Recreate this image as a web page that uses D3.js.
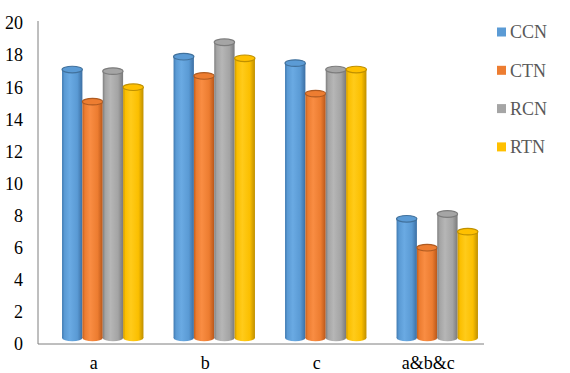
<!DOCTYPE html>
<html>
<head>
<meta charset="utf-8">
<script src="https://cdn.jsdelivr.net/npm/d3@7"></script>
<style>
  body { margin: 0; background: #fff; }
  text { font-family: "Liberation Serif", "Times New Roman", serif; }
</style>
</head>
<body>
<svg id="chart" width="570" height="373"></svg>
<script>
var categories = ["a", "b", "c", "a&b&c"];
var seriesNames = ["CCN", "CTN", "RCN", "RTN"];
var ccn = [17.1, 17.9, 17.5, 7.8];
var ctn = [15.1, 16.7, 15.6, 6.0];
var rcn = [17.0, 18.8, 17.1, 8.1];
var rtn = [16.0, 17.8, 17.1, 7.0];
var yTicks = [0, 2, 4, 6, 8, 10, 12, 14, 16, 18, 20];

var seriesValues = [ccn, ctn, rcn, rtn];
var colors = ["#5b9bd5", "#ed7d31", "#a5a5a5", "#ffc000"];
// shading for the cylinder body: edge, highlight, base, shadow
var shades = [
  ["#3f79b0", "#6aaae3", "#5a9ad4", "#3c6fa3"],
  ["#c45f1c", "#f98d43", "#ec7c30", "#b8571a"],
  ["#7e7e7e", "#b6b6b6", "#a4a4a4", "#7a7a7a"],
  ["#cc9800", "#ffcb1a", "#fbbf00", "#bf8f00"]
];
var topColors = ["#41719c", "#ae5a21", "#7c7c7c", "#bf9000"];

var svg = d3.select("#chart");
var plotLeft = 38, plotRight = 484, plotTop = 23, plotBottom = 344;
var depthX = 9, depthY = -6, ry = 3.3;

var x0 = d3.scaleBand().domain(categories).range([plotLeft, plotRight])
    .paddingInner(0.27).paddingOuter(0.135);
var x1 = d3.scaleBand().domain(seriesNames).range([0, x0.bandwidth()]);
var y = d3.scaleLinear().domain([0, 20]).range([plotBottom, plotTop]);

var defs = svg.append("defs");
shades.forEach(function(s, i) {
  var g = defs.append("linearGradient").attr("id", "grad" + i)
      .attr("x1", "0").attr("x2", "1").attr("y1", "0").attr("y2", "0");
  g.append("stop").attr("offset", "0").attr("stop-color", s[0]);
  g.append("stop").attr("offset", "0.12").attr("stop-color", s[2]);
  g.append("stop").attr("offset", "0.38").attr("stop-color", s[1]);
  g.append("stop").attr("offset", "0.75").attr("stop-color", s[2]);
  g.append("stop").attr("offset", "1").attr("stop-color", s[3]);
});

// y tick labels
svg.append("g").selectAll("text")
  .data(yTicks)
  .enter().append("text")
    .attr("x", 23)
    .attr("y", function(d) { return y(d); })
    .attr("dy", "0.35em")
    .attr("text-anchor", "end")
    .attr("font-size", 18)
    .attr("fill", "#000")
    .text(function(d) { return d; });

// axis lines
svg.append("line").attr("x1", plotLeft).attr("x2", plotLeft).attr("y1", 21).attr("y2", plotBottom)
    .attr("stroke", "#7f7f7f").attr("stroke-width", 1);
svg.append("line").attr("x1", plotLeft).attr("x2", plotRight).attr("y1", plotBottom).attr("y2", plotBottom)
    .attr("stroke", "#7f7f7f").attr("stroke-width", 1);

// cylinders
var groups = svg.append("g").selectAll("g")
  .data(categories)
  .enter().append("g")
    .attr("transform", function(d) { return "translate(" + (x0(d) + depthX) + ",0)"; });

var bars = groups.selectAll("g")
  .data(function(d, ci) {
    return seriesNames.map(function(s, si) { return {s: s, si: si, v: seriesValues[si][ci]}; });
  })
  .enter().append("g");

var bw = x1.bandwidth();
bars.append("ellipse")
    .attr("cx", function(d) { return x1(d.s) + bw / 2; })
    .attr("cy", y(0) + depthY)
    .attr("rx", bw / 2).attr("ry", ry)
    .attr("fill", function(d) { return "url(#grad" + d.si + ")"; });
bars.append("rect")
    .attr("x", function(d) { return x1(d.s); })
    .attr("y", function(d) { return y(d.v); })
    .attr("width", bw)
    .attr("height", function(d) { return y(0) + depthY - y(d.v); })
    .attr("fill", function(d) { return "url(#grad" + d.si + ")"; });
bars.append("ellipse")
    .attr("cx", function(d) { return x1(d.s) + bw / 2; })
    .attr("cy", function(d) { return y(d.v); })
    .attr("rx", bw / 2).attr("ry", ry)
    .attr("fill", function(d) { return colors[d.si]; })
    .attr("stroke", function(d) { return topColors[d.si]; })
    .attr("stroke-width", 1.2);

// category labels
svg.append("g").selectAll("text")
  .data(categories)
  .enter().append("text")
    .attr("x", function(d) { return x0(d) + x0.bandwidth() / 2; })
    .attr("y", 369)
    .attr("text-anchor", "middle")
    .attr("font-size", 18)
    .attr("fill", "#000")
    .text(function(d) { return d; });

// legend
var legend = svg.append("g").selectAll("g")
  .data(seriesNames)
  .enter().append("g")
    .attr("transform", function(d, i) { return "translate(497," + (32 + i * 38.3) + ")"; });
legend.append("rect")
    .attr("x", 0).attr("y", -4.5).attr("width", 9).attr("height", 9)
    .attr("fill", function(d, i) { return colors[i]; });
legend.append("text")
    .attr("x", 13).attr("y", 0).attr("dy", "0.35em")
    .attr("font-size", 18)
    .attr("fill", "#595959")
    .text(function(d) { return d; });
</script>
</body>
</html>
